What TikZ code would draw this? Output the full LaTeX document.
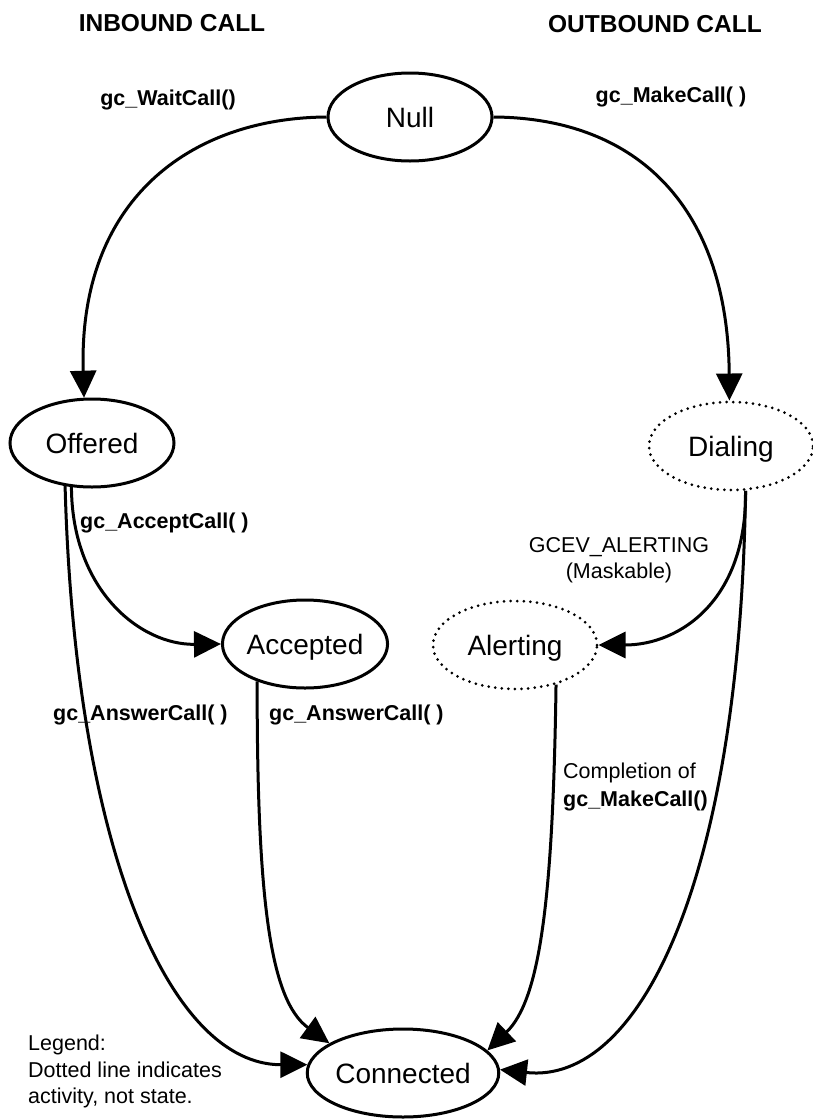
\documentclass[tikz,border=0pt]{standalone}
\usepackage{fontspec}
\setmainfont{Liberation Sans}
\usetikzlibrary{arrows.meta,shapes.geometric}
\begin{document}
\begin{tikzpicture}[x=1pt,y=-1pt,
  statebox/.style={ellipse, draw, line width=3pt, inner sep=0pt,
    minimum width=164pt, minimum height=88pt,
    font=\fontsize{28}{30}\selectfont, text height=20pt, text depth=0pt},
  activity/.style={statebox, solid, dash pattern=on 0pt off 6.6pt, line cap=round},
  link/.style={line width=3pt, -{Triangle[length=27pt,width=26pt]}},
  head/.style={font=\fontsize{24.5}{26}\selectfont\bfseries, inner sep=0pt, anchor=base},
  fn/.style={font=\fontsize{21.5}{23}\selectfont\bfseries, inner sep=0pt},
  note/.style={font=\fontsize{21.5}{26.5}\selectfont, inner sep=0pt}
]
\useasboundingbox (0,0) rectangle (812,1120);

% column headings
\node[head] (hin)  at (172,31) {INBOUND CALL};
\node[head] (hout) at (655,32) {OUTBOUND CALL};

% states and activities
\node[statebox] (null)      at (410,117)  {Null};
\node[statebox] (offered)   at (92,443)   {Offered};
\node[activity] (dialing)   at (731,446)  {Dialing};
\node[statebox] (accepted)  at (305,644)  {Accepted};
\node[activity] (alerting)  at (515,645)  {Alerting};
\node[statebox] (connected) at (403,1073) {Connected};

% transitions
\draw[link] (null.west) .. controls (190,118) and (78,200) .. (offered.100);
\draw[link] (null.east) .. controls (640,118) and (728,210) .. (dialing.92);
\draw[link] (offered.245) .. controls (72,590) and (140,645) .. (accepted.west);
\draw[link] (offered.238) .. controls (75,850) and (170,1065) .. (connected.175);
\draw[link] (accepted.218) .. controls (257,900) and (270,1000) .. (connected.158);
\draw[link] (dialing.288) .. controls (747,600) and (680,645) .. (alerting.east);
\draw[link] (dialing.288) .. controls (740,880) and (640,1085) .. (connected.2);
\draw[link] (alerting.316) .. controls (553,900) and (540,1000) .. (connected.15);

% transition labels
\node[fn, anchor=base] (lwait) at (168,105) {gc\_WaitCall()};
\node[fn, anchor=base] (lmake) at (671,102) {gc\_MakeCall( )};
\node[fn, anchor=base west] (laccept) at (80,528) {gc\_AcceptCall( )};
\node[note, anchor=base] (lalert) at (619,552) {GCEV\_ALERTING};
\node[note, anchor=base] (lmask) at (619,578) {(Maskable)};
\node[fn, anchor=base west] (lans1) at (53,720) {gc\_AnswerCall( )};
\node[fn, anchor=base west] (lans2) at (269,720) {gc\_AnswerCall( )};
\node[note, anchor=base west] (lcomp) at (563,778) {Completion of};
\node[fn, anchor=base west] (lcompfn) at (563,806) {gc\_MakeCall()};

% legend
\node[note, anchor=base west] (leg1) at (28,1050) {Legend:};
\node[note, anchor=base west] (leg2) at (28,1077) {Dotted line indicates};
\node[note, anchor=base west] (leg3) at (28,1103) {activity, not state.};
\end{tikzpicture}
\end{document}
